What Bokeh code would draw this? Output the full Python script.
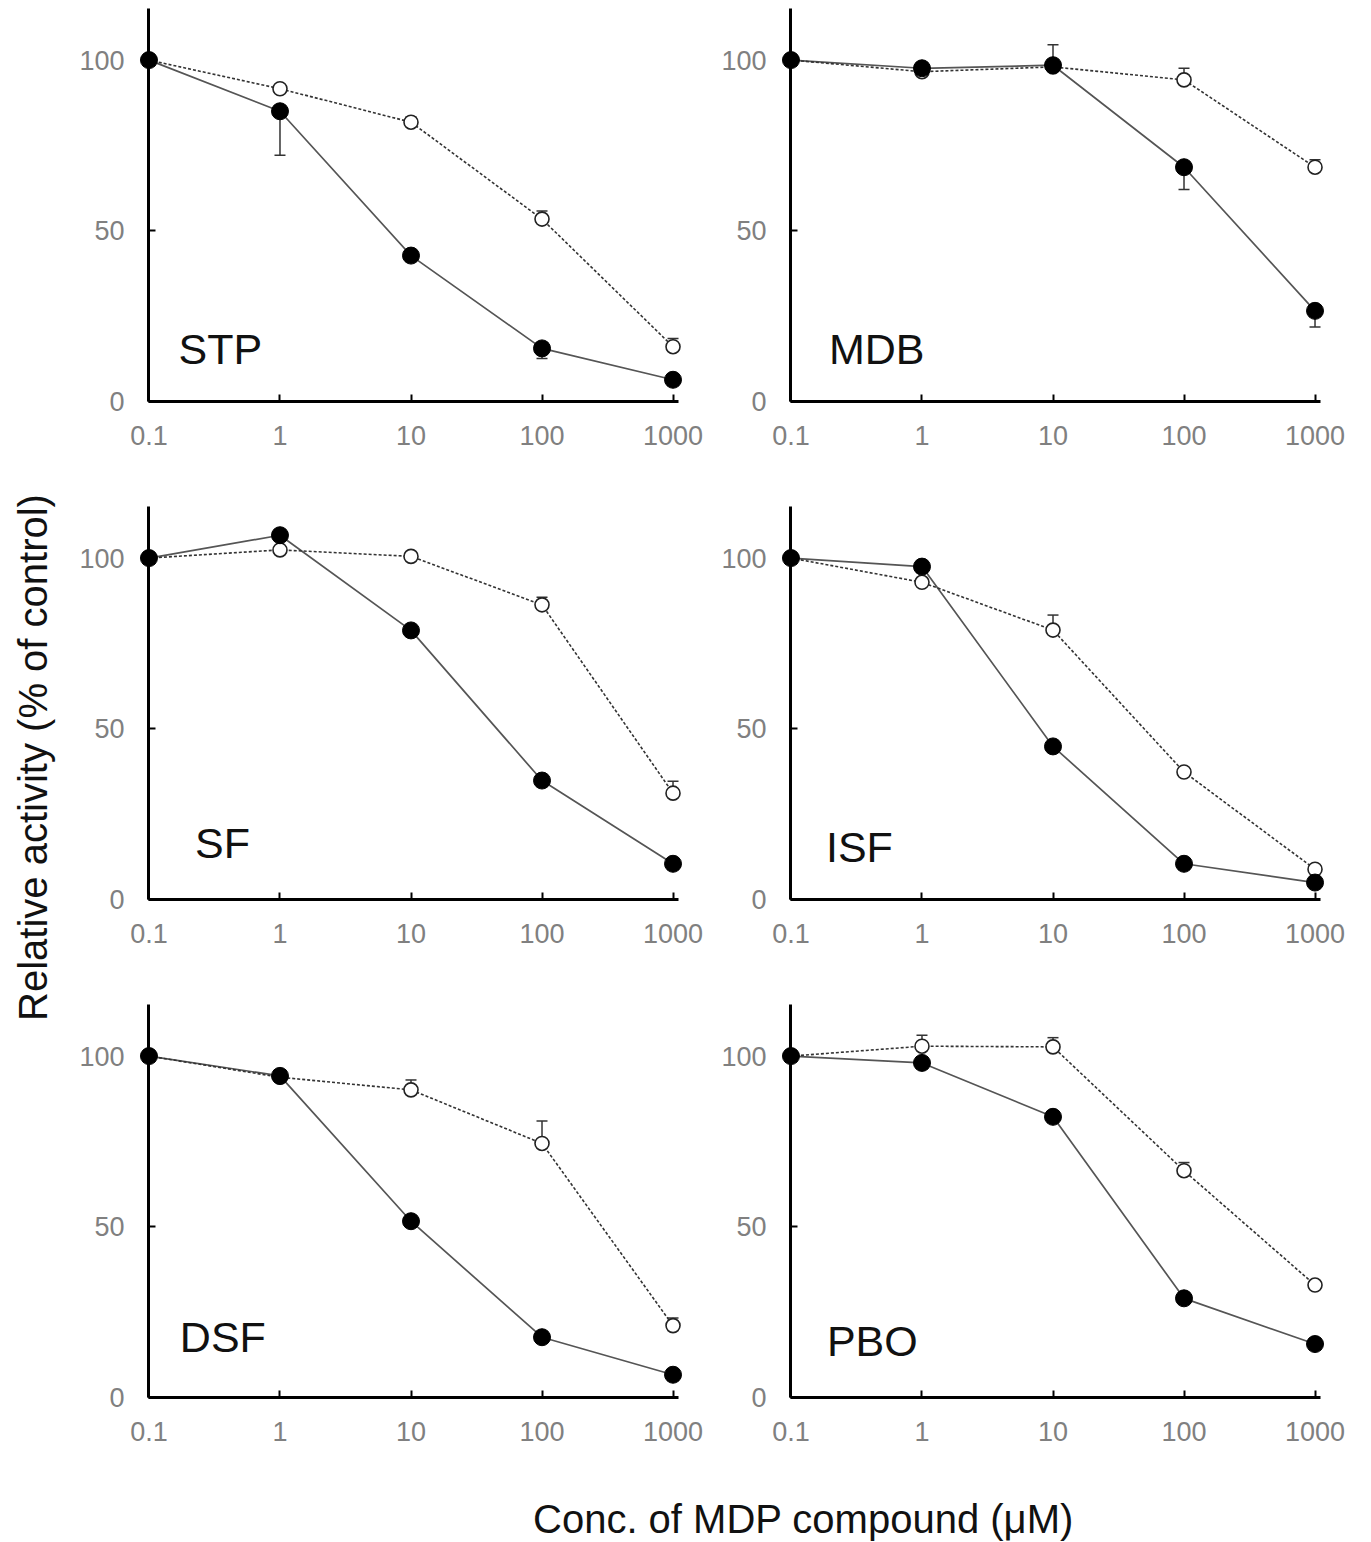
import math
from bokeh.plotting import figure
from bokeh.models import (Range1d, FixedTicker, Label, CustomJSTickFormatter,
                          LogAxis, LinearAxis)
from bokeh.layouts import row, column
from bokeh.embed import file_html
from bokeh.resources import INLINE

# ---------------- data ----------------
conc = [0.1, 1, 10, 100, 1000]
conc_labels = ["0.1", "1", "10", "100", "1000"]
y_ticks = [0, 50, 100]
y_tick_labels = ["0", "50", "100"]

compounds = ["STP", "MDB", "SF", "ISF", "DSF", "PBO"]

# filled circles (solid line) and open circles (dotted line); signed SD (+ up, - down)
stp_filled = [100, 85.0, 42.7, 15.5, 6.3]
stp_filled_err = [0, -12.9, 0, -3.0, 0]
stp_open = [100, 91.6, 81.8, 53.4, 16.0]
stp_open_err = [0, 0, 1.5, 2.4, 2.4]

mdb_filled = [100, 97.6, 98.5, 68.6, 26.5]
mdb_filled_err = [0, 0, 6.0, -6.5, -4.7]
mdb_open = [100, 96.6, 98.0, 94.2, 68.6]
mdb_open_err = [0, 0, 0, 3.4, 2.2]

sf_filled = [100, 106.7, 78.8, 34.8, 10.4]
sf_filled_err = [0, 0, 0, 0, 0]
sf_open = [100, 102.4, 100.5, 86.3, 31.1]
sf_open_err = [0, 0, 0, 2.2, 3.5]

isf_filled = [100, 97.5, 44.8, 10.4, 4.9]
isf_filled_err = [0, 0, 0, 0, 0]
isf_open = [100, 92.9, 78.9, 37.3, 8.8]
isf_open_err = [0, 0, 4.4, 0, 0]

dsf_filled = [100, 94.2, 51.6, 17.6, 6.6]
dsf_filled_err = [0, 0, 0, 0, 0]
dsf_open = [100, 93.8, 90.1, 74.4, 21.0]
dsf_open_err = [0, 0, 2.9, 6.6, 2.2]

pbo_filled = [100, 98.0, 82.2, 29.0, 15.6]
pbo_filled_err = [0, 0, 0, 0, 0]
pbo_open = [100, 102.9, 102.7, 66.4, 32.9]
pbo_open_err = [0, 3.2, 2.7, 2.4, 0]

series = {
    "STP": (stp_filled, stp_filled_err, stp_open, stp_open_err),
    "MDB": (mdb_filled, mdb_filled_err, mdb_open, mdb_open_err),
    "SF": (sf_filled, sf_filled_err, sf_open, sf_open_err),
    "ISF": (isf_filled, isf_filled_err, isf_open, isf_open_err),
    "DSF": (dsf_filled, dsf_filled_err, dsf_open, dsf_open_err),
    "PBO": (pbo_filled, pbo_filled_err, pbo_open, pbo_open_err),
}

# panel-name label anchors (data coords: x concentration, y activity)
label_pos = {
    "STP": (0.168, 15.3),
    "MDB": (0.195, 15.2),
    "SF": (0.225, 16.4),
    "ISF": (0.185, 15.2),
    "DSF": (0.172, 17.8),
    "PBO": (0.188, 16.4),
}

FONT = "Liberation Sans"
TICK_COLOR = "#808080"

LABEL_JS = """
for (let i = 0; i < tvals.length; i++) {
  if (Math.abs(tvals[i] - tick) <= 1e-9 * Math.max(1, Math.abs(tick))) return tlabels[i];
}
return '';
"""


def errbars(p, xs, ys, errs):
    bx, by, be = [], [], []
    for x, y, e in zip(xs, ys, errs):
        if e != 0:
            bx.append(x)
            by.append(y)
            be.append(y + e)
    if bx:
        p.segment(x0=bx, y0=by, x1=bx, y1=be, line_color="#333333", line_width=1.5)
        p.scatter(bx, be, marker="dash", size=11, line_color="#333333", line_width=1.5)


def style_labels(ax, standoff):
    ax.axis_line_color = None
    ax.major_tick_line_color = None
    ax.minor_tick_line_color = None
    ax.major_tick_in = 0
    ax.major_tick_out = 0
    ax.major_label_text_font = FONT
    ax.major_label_text_font_size = "27px"
    ax.major_label_text_color = TICK_COLOR
    ax.major_label_standoff = standoff


def style_line_axis(ax):
    ax.axis_line_width = 3
    ax.axis_line_color = "black"
    ax.major_tick_in = 7
    ax.major_tick_out = 0
    ax.major_tick_line_width = 2
    ax.major_tick_line_color = "black"
    ax.minor_tick_line_color = None
    ax.major_label_text_color = None
    ax.major_label_text_font_size = "1px"
    ax.major_label_standoff = 0


def make_panel(name):
    f, fe, o, oe = series[name]
    p = figure(
        x_axis_type="log",
        x_range=Range1d(10 ** -1.08, 10 ** 3.08),
        y_range=Range1d(-3, 116),
        frame_width=545, frame_height=406,
        min_border_left=76, min_border_right=21,
        min_border_top=5, min_border_bottom=87,
        output_backend="svg", toolbar_location=None,
        outline_line_color=None,
        background_fill_color="white", border_fill_color="white",
    )
    p.grid.visible = False

    # label-only axes at the frame edges
    xa = p.xaxis[0]
    ya = p.yaxis[0]
    xa.ticker = FixedTicker(ticks=conc, minor_ticks=[])
    xa.formatter = CustomJSTickFormatter(args=dict(tvals=conc, tlabels=conc_labels), code=LABEL_JS)
    ya.ticker = FixedTicker(ticks=y_ticks, minor_ticks=[])
    ya.formatter = CustomJSTickFormatter(args=dict(tvals=y_ticks, tlabels=y_tick_labels), code=LABEL_JS)
    style_labels(xa, 14)
    style_labels(ya, 14)

    # line axes pinned at x = 0.1 and y = 0
    xl = LogAxis(ticker=FixedTicker(ticks=conc, minor_ticks=[]), fixed_location=0,
                 bounds=(0.1, 1100))
    yl = LinearAxis(ticker=FixedTicker(ticks=y_ticks, minor_ticks=[]), fixed_location=0.1,
                    bounds=(0, 115))
    style_line_axis(xl)
    style_line_axis(yl)
    p.add_layout(xl, "below")
    p.add_layout(yl, "left")

    p.line(conc, f, line_color="#555555", line_width=1.7)
    p.line(conc, o, line_color="#333333", line_width=1.6, line_dash="3 2")
    errbars(p, conc, f, fe)
    errbars(p, conc, o, oe)
    p.scatter(conc, o, size=14, fill_color="white", line_color="#222222", line_width=1.6)
    p.scatter(conc, f, size=17, fill_color="black", line_color="black")

    lx, ly = label_pos[name]
    p.add_layout(Label(x=lx, y=ly, text=name, text_font=FONT, text_font_size="43px",
                       text_color="#111111", text_baseline="alphabetic"))
    return p


panels = [make_panel(n) for n in compounds]
grid = column(row(panels[0], panels[1]), row(panels[2], panels[3]), row(panels[4], panels[5]))

left = figure(width=62, height=1494, x_range=Range1d(0, 1), y_range=Range1d(0, 1),
              min_border=0, output_backend="svg", toolbar_location=None,
              outline_line_color=None)
left.axis.visible = False
left.grid.visible = False
left.add_layout(Label(x=0.52, y=1 - 757 / 1494, text="Relative activity (% of control)",
                      angle=math.pi / 2, text_align="center", text_baseline="middle",
                      text_font=FONT, text_font_size="40px", text_color="#111111"))

bottom = figure(width=1346, height=48, x_range=Range1d(0, 1), y_range=Range1d(0, 1),
                min_border=0, output_backend="svg", toolbar_location=None,
                outline_line_color=None)
bottom.axis.visible = False
bottom.grid.visible = False
bottom.add_layout(Label(x=803 / 1346, y=0.5, text="Conc. of MDP compound (μM)",
                        text_align="center", text_baseline="middle",
                        text_font=FONT, text_font_size="40px", text_color="#111111"))

page = column(row(left, grid), bottom)
open("out.html", "w").write(file_html(page, INLINE, title="MDP compounds"))
